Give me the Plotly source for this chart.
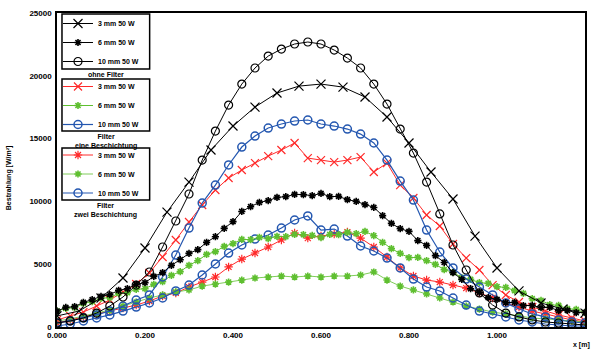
import plotly.graph_objects as go

# ---- sampling positions ----
X_A = [0.00, 0.02, 0.04, 0.06, 0.08, 0.10, 0.12, 0.14, 0.16, 0.18, 0.20, 0.22, 0.24, 0.26, 0.28,
       0.30, 0.32, 0.34, 0.36, 0.38, 0.40, 0.42, 0.44, 0.46, 0.48, 0.50, 0.52, 0.54, 0.56, 0.58,
       0.60, 0.62, 0.64, 0.66, 0.68, 0.70, 0.72, 0.74, 0.76, 0.78, 0.80, 0.82, 0.84, 0.86, 0.88,
       0.90, 0.92, 0.94, 0.96, 0.98, 1.00, 1.02, 1.04, 1.06, 1.08, 1.10, 1.12, 1.14, 1.16, 1.18, 1.20]
X_B = [0.00, 0.03, 0.06, 0.09, 0.12, 0.15, 0.18, 0.21, 0.24, 0.27, 0.30, 0.33, 0.36, 0.39,
       0.42, 0.45, 0.48, 0.51, 0.54, 0.57, 0.60, 0.63, 0.66, 0.69, 0.72, 0.75, 0.78, 0.81,
       0.84, 0.87, 0.90, 0.93, 0.96, 0.99, 1.02, 1.05, 1.08, 1.11, 1.14, 1.17, 1.20]
X_C = [0.00, 0.05, 0.10, 0.15, 0.20, 0.25, 0.30, 0.35, 0.40, 0.45, 0.50, 0.55, 0.60,
       0.65, 0.70, 0.75, 0.80, 0.85, 0.90, 0.95, 1.00, 1.05, 1.10, 1.15, 1.20]

# ---- group 1 (black) ----
black_x = [880, 1270, 2310, 3900, 6290, 9150, 11540, 14090, 16000, 17510, 18630, 19180, 19340,
           19100, 18310, 16720, 14650, 12340, 10190, 7240, 4700, 2870, 1910, 1430, 1110]
black_star = [1270, 1560, 1620, 1960, 2180, 2440, 2580, 2920, 3050, 3390, 3530, 4030, 4330, 4910,
              5360, 5860, 6160, 6740, 7190, 7850, 8390, 9200, 9580, 9920, 10060, 10320, 10380,
              10560, 10540, 10460, 10640, 10380, 10400, 10140, 10000, 9740, 9520, 8870, 8250,
              7830, 7610, 6880, 6500, 5680, 5140, 4330, 3790, 3050, 2760, 2340, 2200, 1940, 1960,
              1700, 1720, 1540, 1560, 1300, 1320, 1140, 1160]
black_o = [320, 480, 720, 1110, 1670, 2390, 3340, 4380, 6370, 8440, 10590, 13290, 15600, 17670,
           19340, 20620, 21570, 22130, 22530, 22690, 22530, 22050, 21410, 20620, 19340, 17750,
           15760, 13850, 11540, 9000, 6530, 4540, 2710, 1750, 1110, 800, 560, 400, 320, 240, 160]

# ---- group 2 ----
red_x2 = [560, 880, 1190, 1670, 2150, 2790, 3420, 4300, 5570, 6930, 8360, 9710, 10910, 11860,
          12500, 13050, 13610, 14090, 14650, 13450, 13290, 13130, 13290, 13530, 12340, 13050,
          11300, 10270, 8920, 8040, 6610, 5490, 4540, 3340, 2550, 1990, 1590, 1270, 960, 720, 480]
green_2 = [1270, 1480, 1540, 1880, 2020, 2280, 2340, 2680, 2740, 3000, 3050, 3390, 3610, 4110,
           4410, 4910, 5280, 5780, 6000, 6420, 6640, 6980, 6950, 7130, 7030, 7210, 7190, 7370,
           7350, 7290, 7110, 7370, 7350, 7530, 7430, 7610, 7270, 6740, 6240, 5860, 5520, 5540,
           5280, 4990, 4570, 4350, 3930, 3790, 3530, 3470, 3210, 3150, 2900, 2680, 2260, 2120,
           1780, 1720, 1460, 1400, 1140]
blue_o2 = [320, 480, 720, 960, 1270, 1670, 2150, 2550, 3980, 5730, 7880, 9870, 11300, 12900,
           14330, 15200, 15840, 16160, 16400, 16480, 16160, 16000, 15760, 15360, 14650, 13290,
           11620, 10110, 7720, 5970, 4700, 3820, 3180, 2550, 1910, 1430, 1040, 800, 560, 400, 320]

# ---- group 3 ----
red_star3 = [320, 560, 800, 1040, 1270, 1510, 1750, 2070, 2470, 2710, 3180, 3580, 3980, 4780,
             5410, 5890, 6370, 6930, 7480, 7080, 7240, 7400, 7560, 7080, 6370, 5570, 4700, 4060,
             3740, 3580, 3340, 3100, 2710, 2310, 1910, 1590, 1270, 1040, 800, 560, 400]
green_3 = [480, 640, 880, 1110, 1350, 1670, 1990, 2310, 2550, 2790, 2950, 3260, 3420, 3580,
           3740, 3900, 3980, 4060, 3980, 4060, 3980, 4060, 4060, 4140, 4380, 3740, 3260, 2950,
           2630, 2310, 1990, 1670, 1430, 1190, 1040, 880, 720, 640, 560, 480, 400]
blue_o3 = [80, 240, 480, 720, 960, 1270, 1590, 1910, 2310, 2870, 3340, 4140, 5020, 5890, 6530,
           7000, 7320, 7880, 8520, 8840, 7720, 7800, 7240, 6450, 6050, 5490, 4700, 3820, 3180,
           2870, 2310, 1750, 1270, 1040, 800, 560, 400, 240, 160, 80, 80]

# ---- text ----
names1 = ["3 mm 50 W", "6 mm 50 W", "10 mm 50 W"]
names2 = ["3 mm 50 W", "6 mm 50 W", "10 mm 50 W"]
names3 = ["3 mm 50 W", "6 mm 50 W", "10 mm 50 W"]
group_titles = ["ohne Filter", "Filter<br>eine Beschichtung", "Filter<br>zwei Beschichtung"]
x_ticks = [0.0, 0.2, 0.4, 0.6, 0.8, 1.0, 1.2]
y_ticks = [0, 5000, 10000, 15000, 20000, 25000]
y_title = "Bestrahlung [W/m²]"
x_title = "x [m]"

BLACK = "#000000"
RED = "#ff2a2a"
GREEN = "#5fbf30"
BLUE = "#2457b0"

fig = go.Figure()


def add(x, y, name, color, symbol, size, lw, legend, mlw=1.2):
    fig.add_trace(go.Scatter(
        x=x, y=y, name=name, mode="lines+markers", legend=legend,
        line=dict(color=color, width=lw),
        marker=dict(symbol=symbol, size=size, color=color,
                    line=dict(color=color, width=mlw)),
    ))


# group 3 (drawn first, underneath)
add(X_B, red_star3, names3[0], RED, "asterisk-open", 7, 1, "legend3")
add(X_B, green_3, names3[1], GREEN, "asterisk-open", 6, 0.8, "legend3", 1.6)
add(X_B, blue_o3, names3[2], BLUE, "circle-open", 8, 1.2, "legend3", 1.5)
# group 2
add(X_B, red_x2, names2[0], RED, "x-thin-open", 8, 1, "legend2")
add(X_A, green_2, names2[1], GREEN, "asterisk-open", 6, 1, "legend2", 1.6)
add(X_B, blue_o2, names2[2], BLUE, "circle-open", 8, 1.2, "legend2", 1.5)
# group 1
add(X_C, black_x, names1[0], BLACK, "x-thin-open", 9, 1, "legend")
add(X_A, black_star, names1[1], BLACK, "asterisk-open", 6, 1, "legend", 1.6)
add(X_B, black_o, names1[2], BLACK, "circle-open", 8, 1, "legend", 1.2)

L = 57
W = 530
T = 13
H = 314


def px(xp):
    return (xp - L) / W


def py(yp):
    return (T + H - yp) / H


leg_common = dict(xanchor="left", yanchor="top", borderwidth=0,
                  bgcolor="rgba(0,0,0,0)", font=dict(size=7, color="black", weight="bold"),
                  itemwidth=30, tracegroupgap=0, x=px(58))

# legend frames (top, bottom in pixels) and legend anchor tops
frames = [(14, 69), (79, 131), (148, 200)]
leg_tops = [9, 72, 140.5]

fig.update_layout(
    width=593, height=349,
    margin=dict(l=L, r=593 - L - W, t=T, b=349 - T - H),
    plot_bgcolor="white", paper_bgcolor="white",
    font=dict(family="Liberation Sans, Arial", size=8, color="black", weight="bold"),
    showlegend=True,
    legend=dict(y=py(leg_tops[0]), **leg_common),
    legend2=dict(y=py(leg_tops[1]), **leg_common),
    legend3=dict(y=py(leg_tops[2]), **leg_common),
    xaxis=dict(range=[0, 1.2], tickvals=x_ticks, tickformat=".3f", showline=True,
               linecolor="black", linewidth=1.5, mirror=True, showgrid=False, zeroline=False,
               ticks="", tickfont=dict(size=8, weight="bold")),
    yaxis=dict(range=[0, 25000], tickvals=y_ticks, tickformat="d", showline=True,
               linecolor="black", linewidth=1.5, mirror=True, showgrid=False, zeroline=False,
               ticks="", ticklabelstandoff=2, tickfont=dict(size=8, weight="bold")),
)

for (t, b) in frames:
    fig.add_shape(type="rect", xref="paper", yref="paper",
                  x0=px(62), x1=px(150), y0=py(b), y1=py(t),
                  line=dict(color="black", width=1.5), fillcolor="white", layer="above")

annos = [
    dict(text=y_title, x=px(9), y=py(178), textangle=-90, yanchor="middle"),
    dict(text=x_title, x=px(583), y=py(339), yanchor="top"),
    dict(text=group_titles[0], x=px(106), y=py(69), yanchor="top"),
    dict(text=group_titles[1], x=px(106), y=py(131), yanchor="top"),
    dict(text=group_titles[2], x=px(106), y=py(200), yanchor="top"),
]
for a in annos:
    fig.add_annotation(xref="paper", yref="paper", showarrow=False, xanchor="center",
                       align="center",
                       font=dict(size=7, color="black", weight="bold"), **a)

fig.write_html("out.html")
